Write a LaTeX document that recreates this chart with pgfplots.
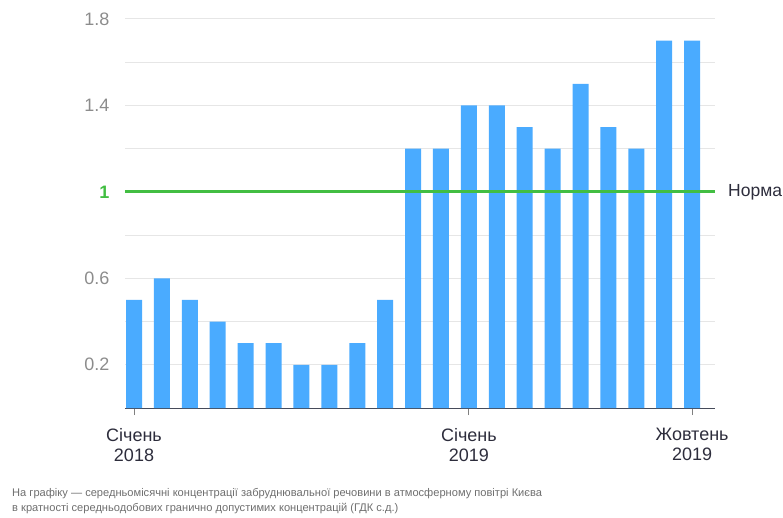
\documentclass[border=0pt]{standalone}
\usepackage{pgfplots}
\pgfplotsset{compat=1.18}
\usepackage{fontspec}
\setmainfont{Liberation Sans}
\definecolor{barblue}{RGB}{74,171,255}
\definecolor{normgreen}{RGB}{66,190,66}
\definecolor{gridgray}{RGB}{230,230,230}
\definecolor{ticklab}{RGB}{140,140,140}
\definecolor{darktext}{RGB}{45,45,60}
\definecolor{axisgray}{RGB}{70,75,90}
\definecolor{notegray}{RGB}{110,110,110}
\begin{document}
\begin{tikzpicture}
\useasboundingbox (-125pt,-109pt) rectangle (658pt,408pt);
\begin{axis}[
  at={(0pt,0pt)}, anchor=south west,
  scale only axis, width=590pt, height=389pt,
  xmin=-0.323, xmax=20.82, ymin=0, ymax=1.8,
  ybar, bar width=16pt, bar shift=0pt,
  axis x line=bottom, axis y line=left,
  x axis line style={-, draw=axisgray, line width=0.9pt},
  y axis line style={draw=none},
  tick align=outside,
  xtick={0,12,20},
  xticklabels={{Січень\\2018},{Січень\\2019},{Жовтень\\2019}},
  x tick label style={align=center, font=\fontsize{18}{19.5}\selectfont, text=darktext, yshift=-10pt},
  xtick style={draw=gray, line width=0.8pt},
  major tick length=7pt,
  ytick={0.2,0.4,0.6,0.8,1,1.2,1.4,1.6,1.8},
  yticklabels={0.2,,0.6,,\textbf{\textcolor{normgreen}{1}},,1.4,,1.8},
  y tick label style={font=\fontsize{18}{20}\selectfont, text=ticklab, xshift=-5pt},
  ytick style={draw=none},
  ymajorgrids, grid style={gridgray, line width=1pt},
  clip=false,
]
\addplot[fill=barblue, draw=none] coordinates {
  (0,0.5) (1,0.6) (2,0.5) (3,0.4) (4,0.3) (5,0.3) (6,0.2) (7,0.2)
  (8,0.3) (9,0.5) (10,1.2) (11,1.2) (12,1.4) (13,1.4) (14,1.3)
  (15,1.2) (16,1.5) (17,1.3) (18,1.2) (19,1.7) (20,1.7)
};
\addplot[sharp plot, no marks, draw=normgreen, fill=none, line width=3pt] coordinates {(-0.323,1) (20.82,1)};
\node[anchor=west, inner sep=0pt, text=darktext, font=\fontsize{17.5}{20}\selectfont] at (axis cs:20.82,1) [xshift=13pt] {Норма};
\end{axis}
\node[anchor=north west, align=left, inner sep=0pt, text=notegray, font=\fontsize{11.1}{15.5}\selectfont] at (-113pt,-80pt) {На графіку — середньомісячні концентрації забруднювальної речовини в атмосферному повітрі Києва\\в кратності середньодобових гранично допустимих концентрацій (ГДК с.д.)};
\end{tikzpicture}
\end{document}
